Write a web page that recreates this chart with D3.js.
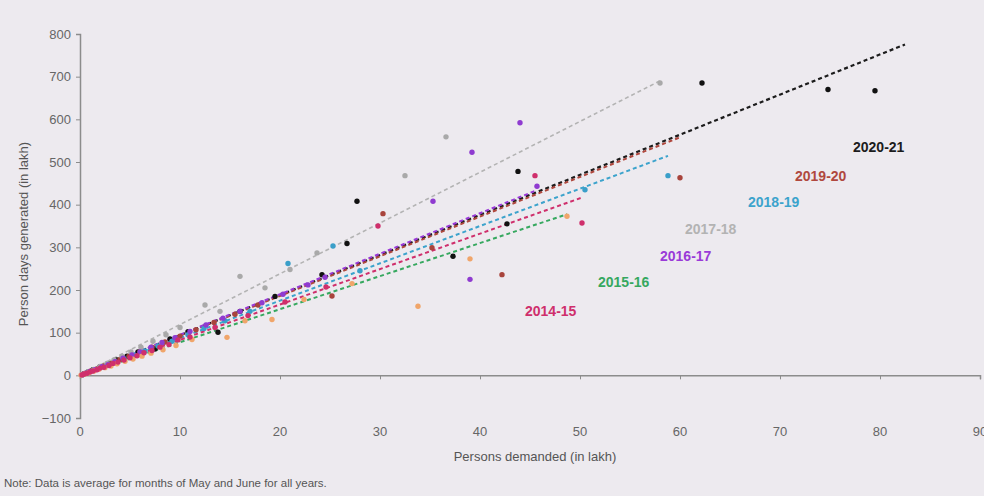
<!DOCTYPE html>
<html>
<head>
<meta charset="utf-8">
<script src="https://cdn.jsdelivr.net/npm/d3@7"></script>
<style>
  html, body { margin: 0; padding: 0; background: #edeaef; }
  svg { display: block; font-family: "Liberation Sans", Arial, sans-serif; }
</style>
</head>
<body>
<svg id="chart" width="984" height="496"></svg>
<script>
// Years shown, one series each
const years = ["2014-15", "2015-16", "2016-17", "2017-18", "2018-19", "2019-20", "2020-21"];

// State-wise averages (May–June): [persons demanded, person days generated], in lakh
const pts2014 = [[0.2,1],[0.4,3],[0.7,5],[1.0,8],[1.3,10],[1.7,13],[2.0,17],[2.4,19],[2.9,23],[3.3,28],[3.8,31],[4.4,36],[5.0,41],[5.7,46],[6.4,53],[7.2,58],[8.0,66],[8.9,72],[9.8,83],[11.0,90],[13.5,112],[16.8,140],[20.5,172],[24.6,207],[29.8,350],[45.5,468],[50.2,357]];
const pts2015 = [[0.1,0.5],[0.5,3],[0.9,6],[1.4,10],[1.9,14],[2.5,18],[3.1,22],[3.7,27],[4.5,33],[5.3,38],[6.2,45],[7.1,52],[8.3,60],[9.6,70],[11.2,84],[14.7,89],[16.5,128],[19.2,131],[22.4,178],[27.2,215],[33.8,162],[39.0,273],[48.7,373]];
const pts2016 = [[0.3,2],[0.6,5],[1.0,9],[1.5,13],[2.2,20],[2.8,25],[3.5,32],[4.3,40],[5.2,48],[6.0,55],[7.1,66],[8.2,77],[9.5,88],[11.0,103],[12.6,118],[14.3,134],[16.0,150],[18.2,170],[20.3,190],[22.8,212],[24.5,230],[35.3,408],[39.0,225],[39.2,523],[44.0,592],[45.7,443]];
const pts2017 = [[0.2,2],[0.5,5],[0.9,9],[1.4,14],[2.0,21],[2.7,28],[3.4,36],[4.2,45],[5.1,55],[6.1,66],[7.3,80],[8.6,95],[10.0,112],[12.5,165],[14.0,150],[16.0,232],[18.5,205],[21.0,248],[23.7,287],[32.5,468],[36.6,559],[58.0,685]];
const pts2018 = [[0.2,1],[0.5,4],[0.9,8],[1.4,12],[2.0,18],[2.7,24],[3.5,31],[4.4,39],[5.4,48],[6.5,57],[7.8,69],[9.2,80],[10.8,95],[12.4,110],[14.5,128],[17.0,150],[20.8,262],[25.3,303],[28.0,245],[50.5,435],[58.8,468]];
const pts2019 = [[0.3,2],[0.6,5],[1.1,10],[1.7,15],[2.4,22],[3.2,29],[4.0,37],[4.9,45],[6.0,55],[7.2,66],[8.5,78],[10.0,92],[11.6,107],[13.4,124],[15.5,143],[17.8,165],[25.2,186],[30.3,379],[35.2,299],[42.2,236],[60.0,463]];
const pts2020 = [[0.4,4],[0.8,8],[1.3,13],[2.0,20],[2.8,27],[3.7,36],[4.7,45],[5.8,55],[7.5,62],[9.0,85],[10.8,102],[13.8,101],[16.0,150],[19.5,185],[24.2,236],[26.7,309],[27.7,408],[37.3,279],[42.7,355],[43.8,478],[62.2,685],[74.8,670],[79.5,667]];

// Linear trend per year (person days per person demanded) and forward extension of the trend, in lakh
const trendSlope = [8.3, 7.75, 9.5, 11.9, 8.75, 9.3, 9.4];
const trendIntercept = [0, 0, 0, 0, 0, 0, 0];
const trendForward = [0, 0, 0, 0, 0, 0, 3];

// Axis ticks
const xTicks = [0, 10, 20, 30, 40, 50, 60, 70, 80, 90];
const yTicks = [-100, 0, 100, 200, 300, 400, 500, 600, 700, 800];

const seriesPoints = [pts2014, pts2015, pts2016, pts2017, pts2018, pts2019, pts2020];

// Styling
const lineColors   = ["#cf2f6c", "#36a85f", "#9a3ad8", "#b3b3b3", "#3ca3cc", "#b0483e", "#1c1c1c"];
const markerColors = ["#cf2f6c", "#f0a56a", "#8f3bd0", "#a9a9a9", "#3a9fc9", "#a8443c", "#111111"];
const lineWidths   = [2, 2, 2, 1.6, 2, 2, 2.2];
// Year-label anchors in axis units: left edge, vertical centre
const labelAnchor = [[44.5,150],[51.8,218],[58,279],[60.5,342],[66.8,405],[71.5,468],[77.3,534]];

const svg = d3.select("#chart");
const x = d3.scaleLinear().domain([0, 90]).range([80, 980]);
const y = d3.scaleLinear().domain([-100, 800]).range([418, 34]);
const axisColor = "#8c8c8c";
const textColor = "#666";

// Y axis (left)
const yAxis = svg.append("g")
  .attr("transform", `translate(${x(0)},0)`)
  .call(d3.axisLeft(y).tickValues(yTicks).tickSize(4).tickPadding(5).tickFormat(d3.format("d")));
yAxis.select(".domain").attr("stroke", axisColor).attr("stroke-width", 1.5);
yAxis.selectAll(".tick line").attr("stroke", axisColor);
yAxis.selectAll(".tick text").attr("fill", textColor).style("font-size", "13px");

// X axis line at zero, labels along the bottom of the plot
const xAxis = svg.append("g")
  .attr("transform", `translate(0,${y(0)})`)
  .call(d3.axisBottom(x).tickValues(xTicks).tickSize(4).tickFormat(() => ""));
xAxis.select(".domain").attr("stroke", axisColor).attr("stroke-width", 1.5);
xAxis.selectAll(".tick line").attr("stroke", axisColor);

svg.append("g").selectAll("text")
  .data(xTicks).join("text")
  .attr("x", d => x(d)).attr("y", y(-100) + 18)
  .attr("text-anchor", "middle")
  .attr("fill", textColor).style("font-size", "13px")
  .text(d => d);

// Axis titles and note
svg.append("text")
  .attr("x", 535).attr("y", 461)
  .attr("text-anchor", "middle").attr("fill", "#555").style("font-size", "13px")
  .text("Persons demanded (in lakh)");
svg.append("text")
  .attr("transform", `translate(28,${(y(800) + y(-100)) / 2 + 8}) rotate(-90)`)
  .attr("text-anchor", "middle").attr("fill", "#555").style("font-size", "13px")
  .text("Person days generated (in lakh)");
svg.append("text")
  .attr("x", 4).attr("y", 487)
  .attr("fill", "#555").style("font-size", "11.5px")
  .text("Note: Data is average for months of May and June for all years.");

// Trend lines, latest year drawn first so the earlier years sit on top near the origin
const trendLayer = svg.append("g");
for (let i = years.length - 1; i >= 0; i--) {
  const xs = seriesPoints[i].map(p => p[0]);
  const x0 = d3.min(xs), x1 = d3.max(xs) + trendForward[i];
  const seg = [x0, x1].map(v => [v, trendIntercept[i] + trendSlope[i] * v]);
  trendLayer.append("path")
    .attr("d", d3.line().x(d => x(d[0])).y(d => y(d[1]))(seg))
    .attr("fill", "none")
    .attr("stroke", lineColors[i])
    .attr("stroke-width", lineWidths[i])
    .attr("stroke-dasharray", "4,3");
}

// Scatter points, later years underneath so the dense early-year cluster shows
const pointLayer = svg.append("g");
for (let i = years.length - 1; i >= 0; i--) {
  pointLayer.append("g").selectAll("circle")
    .data(seriesPoints[i]).join("circle")
    .attr("cx", d => x(d[0])).attr("cy", d => y(d[1]))
    .attr("r", 2.7)
    .attr("fill", markerColors[i]);
}

// Year labels
svg.append("g").selectAll("text")
  .data(years).join("text")
  .attr("x", (d, i) => x(labelAnchor[i][0]))
  .attr("y", (d, i) => y(labelAnchor[i][1]))
  .attr("dy", "0.35em")
  .attr("fill", (d, i) => lineColors[i])
  .style("font-size", "14px")
  .style("font-weight", "bold")
  .text(d => d);
</script>
</body>
</html>
